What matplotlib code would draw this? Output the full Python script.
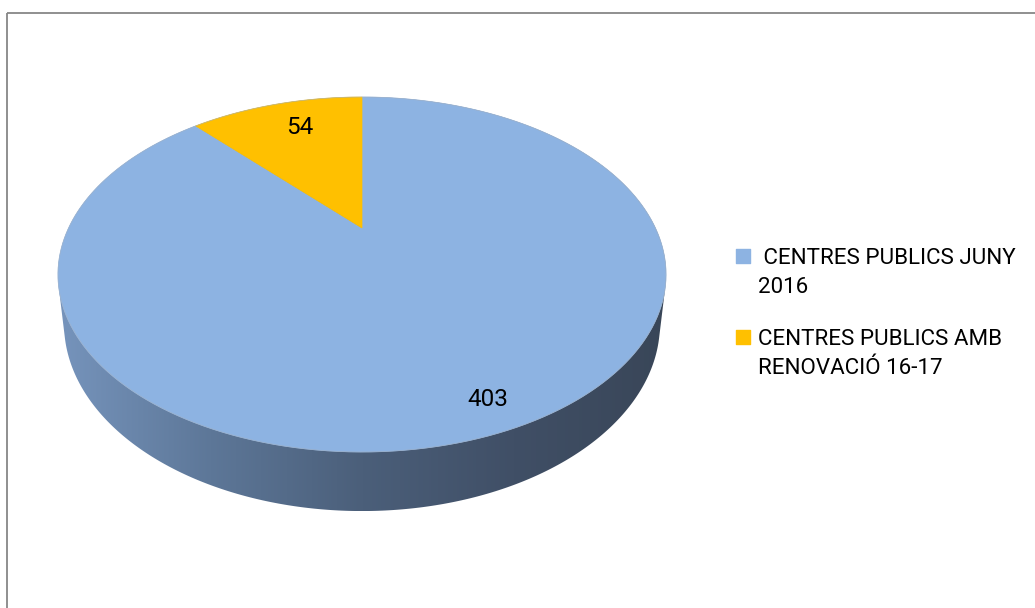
import numpy as np
import matplotlib.pyplot as plt
from matplotlib.patches import Polygon, Rectangle
from matplotlib.colors import LinearSegmentedColormap

plt.rcParams['font.family'] = ['Roboto', 'DejaVu Sans']

# data
labels = [' CENTRES PUBLICS JUNY\n2016', 'CENTRES PUBLICS AMB\nRENOVACIÓ 16-17']
values = [403, 54]
colors = ['#8db3e2', '#ffc000']
side_colors = ['#7694bc', '#5d7798', '#4b5f7a', '#404f66', '#394658']

# layout (pixels)
W, H = 1035, 608
cx, cy = 362, 228        # projected centre of the pie top
A, B = 293.4, 165.3      # radii before perspective
k = 0.262                # perspective strength
shrink = 0.98            # bottom face looks a bit smaller
depth = 46.9             # thickness of the pie
label_pos = [(488, 399), (300, 128)]


def project(u, v, dz=0.0, f=1.0):
    s = 1 + k * v
    return cx + f * A * u / s, cy - f * B * v / s + dz / s


def convex_hull(pts):
    pts = sorted(map(tuple, pts))

    def cross(o, a, b):
        return (a[0] - o[0]) * (b[1] - o[1]) - (a[1] - o[1]) * (b[0] - o[0])

    lower, upper = [], []
    for p in pts:
        while len(lower) >= 2 and cross(lower[-2], lower[-1], p) <= 0:
            lower.pop()
        lower.append(p)
    for p in reversed(pts):
        while len(upper) >= 2 and cross(upper[-2], upper[-1], p) <= 0:
            upper.pop()
        upper.append(p)
    return np.array(lower[:-1] + upper[:-1])


fig = plt.figure(figsize=(W / 100, H / 100), dpi=100)
ax = fig.add_axes([0, 0, 1, 1])

# side wall: hull of top and bottom faces, filled with a gradient
t = np.linspace(0, 2 * np.pi, 720, endpoint=False)
top_x, top_y = project(np.cos(t), np.sin(t))
bot_x, bot_y = project(np.cos(t), np.sin(t), depth, shrink)
hull = convex_hull(np.column_stack([np.r_[top_x, bot_x], np.r_[top_y, bot_y]]))
hull_patch = Polygon(hull, closed=True, facecolor='none', edgecolor='none')
ax.add_patch(hull_patch)

cmap = LinearSegmentedColormap.from_list('side', side_colors)
grad = np.linspace(0, 1, 256).reshape(1, -1)
im = ax.imshow(grad, cmap=cmap, aspect='auto', interpolation='bilinear',
               extent=[hull[:, 0].min(), hull[:, 0].max(),
                       hull[:, 1].max(), hull[:, 1].min()], zorder=1)
im.set_clip_path(hull_patch)

# top face slices, clockwise from 12 o'clock
total = sum(values)
start = 0.0
for val, col in zip(values, colors):
    span = 2 * np.pi * val / total
    th = np.linspace(start, start + span, 200)
    xs, ys = project(np.sin(th), np.cos(th))
    pts = np.column_stack([np.r_[cx, xs], np.r_[cy, ys]])
    ax.add_patch(Polygon(pts, closed=True, facecolor=col, edgecolor=col,
                         lw=0.5, zorder=2))
    start += span
ax.plot(np.r_[top_x, top_x[0]], np.r_[top_y, top_y[0]], color='#a9b7c8',
        lw=0.6, alpha=0.6, zorder=2)

for val, (lx, ly) in zip(values, label_pos):
    ax.text(lx, ly, str(val), ha='center', va='center', fontsize=17.5,
            color='black', zorder=3)

# legend
leg_y = [256, 337]
for lab, col, y in zip(labels, colors, leg_y):
    ax.scatter([743], [y], marker='s', s=100, color=col, zorder=3)
    ax.text(758, y - 8, lab, ha='left', va='top', fontsize=16.1,
            linespacing=1.5, color='black', zorder=3)

# chart border
ax.add_patch(Rectangle((7, 13), 1100, 700, fill=False, edgecolor='#878787',
                       lw=1.3, zorder=4))

ax.set_xlim(0, W)
ax.set_ylim(H, 0)
ax.axis('off')
fig.savefig('out.png', dpi=100)
